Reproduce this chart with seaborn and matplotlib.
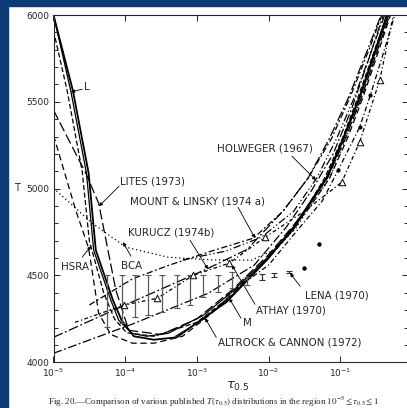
import numpy as np
import matplotlib
matplotlib.use("Agg")
import matplotlib.pyplot as plt
from matplotlib.ticker import MultipleLocator, NullLocator
from matplotlib.patches import Rectangle
import seaborn as sns

# log10(tau_0.5) and T for each model
L_lt = [-5.0, -4.76, -4.54, -4.44, -4.20, -4.09, -3.91, -3.70, -3.40, -2.91, -2.53, -2.01, -1.65, -1.45, -1.17, -0.94, -0.72, -0.50, -0.33]
L_T = [6000, 5565, 5089, 4646, 4357, 4242, 4167, 4150, 4167, 4271, 4398, 4605, 4772, 4893, 5070, 5300, 5530, 5800, 6000]

altrock_lt = [-5.0, -4.73, -4.51, -4.41, -4.17, -4.05, -3.88, -3.60, -3.28, -2.91, -2.59, -2.00, -1.65, -1.47, -1.19, -0.96, -0.73, -0.51, -0.35]
altrock_T = [6000, 5565, 5089, 4646, 4357, 4242, 4150, 4130, 4144, 4254, 4346, 4600, 4780, 4890, 5065, 5290, 5530, 5800, 6000]

dash_lt = [-5.0, -4.81, -4.60, -4.50, -4.30, -4.15, -3.98, -3.60, -3.00, -2.50, -2.00, -1.62, -1.50, -1.22, -0.97, -0.75, -0.52, -0.35]
dash_T = [5910, 5565, 5100, 4700, 4400, 4250, 4170, 4150, 4230, 4390, 4600, 4780, 4870, 5060, 5290, 5530, 5800, 6000]

lites_lt = [-5.0, -4.55, -4.37, -4.13, -3.95, -3.50, -3.00, -2.50, -2.00, -1.65, -1.48, -1.18, -0.93, -0.70, -0.48, -0.31]
lites_T = [5452, 5089, 4916, 4415, 4184, 4160, 4250, 4420, 4620, 4790, 4880, 5060, 5290, 5530, 5800, 6000]

hsra_lt = [-5.0, -4.69, -4.51, -4.37, -4.20, -3.90, -3.60, -3.20, -2.80, -2.40, -2.00, -1.65, -1.45, -1.15, -0.90, -0.68, -0.46, -0.30]
hsra_T = [5308, 4876, 4657, 4282, 4160, 4110, 4110, 4150, 4280, 4440, 4610, 4780, 4880, 5060, 5290, 5530, 5800, 6000]

bca_lt = [-5.0, -4.46, -3.99, -3.40, -2.80, -2.24, -1.90, -1.62, -1.45, -1.15, -0.92, -0.70, -0.48, -0.32]
bca_T = [5003, 4801, 4663, 4605, 4590, 4588, 4650, 4772, 4880, 5060, 5290, 5530, 5800, 6000]

kurucz_lt = [-5.0, -4.0, -2.87, -2.30, -1.80, -1.45, -1.15, -0.88, -0.62, -0.43]
kurucz_T = [4144, 4330, 4536, 4650, 4870, 5060, 5290, 5530, 5800, 6000]

mtl_lt = [-4.50, -3.90, -3.39, -2.80, -2.21, -1.80, -1.45, -1.12, -0.86, -0.60, -0.42]
mtl_T = [4330, 4480, 4559, 4640, 4715, 4870, 5060, 5290, 5530, 5800, 6000]

holweger_lt = [-3.20, -2.60, -2.10, -1.65, -1.33, -1.05, -0.80, -0.56, -0.38]
holweger_T = [4590, 4640, 4720, 4870, 5060, 5290, 5530, 5800, 6000]

athay_lt = [-4.70, -4.02, -3.55, -3.05, -2.55, -2.05, -1.50, -0.98, -0.73, -0.45, -0.26]
athay_T = [4230, 4329, 4369, 4501, 4571, 4720, 4870, 5037, 5268, 5625, 6000]
athay_tri_lt = [-4.02, -3.55, -3.05, -2.55, -2.05, -0.98, -0.73, -0.45]
athay_tri_T = [4329, 4369, 4501, 4571, 4720, 5037, 5268, 5625]

low_lt = [-5.0, -3.90, -2.84, -2.20, -1.75, -1.40, -1.10, -0.85, -0.60, -0.40]
low_T = [4052, 4220, 4398, 4560, 4780, 4990, 5200, 5450, 5750, 6000]

m_lt = [-3.30, -2.90, -2.55, -2.10, -1.63]
m_T = [4150, 4250, 4369, 4560, 4778]

dots_lt = [-2.60, -2.00, -1.60, -1.25, -1.03, -0.73, -0.58, -0.40, -0.24]
dots_T = [4380, 4560, 4760, 4930, 5107, 5354, 5539, 5780, 6000]
dots_pt_lt = [-1.03, -0.73, -0.58]
dots_pt_T = [5107, 5354, 5539]

# error bars (big set) and Lena (1970) points
bar_lt = [-4.258, -4.049, -3.863, -3.678, -3.491, -3.282, -3.096, -2.911, -2.710, -2.515, -2.305]
bar_hi = [4500, 4500, 4500, 4500, 4500, 4500, 4500, 4500, 4500, 4520, 4490]
bar_lo = [4203, 4225, 4261, 4271, 4290, 4311, 4329, 4376, 4405, 4425, 4444]

lena_bar_lt = [-2.09, -1.925, -1.72]
lena_bar_T = [4490, 4501, 4519]
lena_bar_err = [17, 12, 6]
lena_pt_lt = [-1.297, -1.506]
lena_pt_T = [4680, 4542]

xtick_exp = [-5, -4, -3, -2, -1]

sns.set_style("ticks")
plt.rcParams['font.family'] = ['DejaVu Sans']
plt.rcParams['mathtext.fontset'] = 'dejavusans'

fig = plt.figure(figsize=(4.07, 4.08), dpi=100)
ax = fig.add_axes([53.5 / 407, 1 - 362.3 / 408, (408 - 53.5) / 407, (362.3 - 15) / 408])
ax.set_xscale('log')


def curve(lt, T, ls, lw=0.9):
    sns.lineplot(x=10.0 ** np.array(lt), y=T, ax=ax, color='black', lw=lw,
                 linestyle=ls, sort=False, estimator=None)


curve(L_lt, L_T, '-', 0.9)
curve(altrock_lt, altrock_T, '-', 1.3)
curve(dash_lt, dash_T, (0, (4, 2)))
curve(lites_lt, lites_T, (0, (8, 3)))
curve(hsra_lt, hsra_T, (0, (5, 3)))
curve(bca_lt, bca_T, (0, (1, 2.2)))
curve(kurucz_lt, kurucz_T, (0, (8, 2, 1.5, 2)))
curve(mtl_lt, mtl_T, (0, (5, 2, 1.5, 2)))
curve(holweger_lt, holweger_T, (0, (6, 2, 1, 2, 1, 2)))
curve(athay_lt, athay_T, (0, (3, 2, 1, 2)))
curve(low_lt, low_T, (0, (7, 2, 1.5, 2)))
curve(m_lt, m_T, '-', 0.8)
curve(dots_lt, dots_T, (0, (4, 2, 1, 2)))

sns.scatterplot(x=10.0 ** np.array(athay_tri_lt), y=athay_tri_T, ax=ax, marker='^',
                s=22, color='white', edgecolor='black', linewidth=0.7, zorder=4)
sns.scatterplot(x=10.0 ** np.array(dots_pt_lt), y=dots_pt_T, ax=ax, marker='o',
                s=9, color='black', linewidth=0, zorder=4)
sns.scatterplot(x=10.0 ** np.array(lena_pt_lt), y=lena_pt_T, ax=ax, marker='o',
                s=10, color='black', linewidth=0, zorder=4)

bar_mid = (np.array(bar_hi) + np.array(bar_lo)) / 2
bar_half = (np.array(bar_hi) - np.array(bar_lo)) / 2
ax.errorbar(10.0 ** np.array(bar_lt), bar_mid, yerr=bar_half, fmt='none',
            ecolor='0.35', elinewidth=0.9, capsize=2.3, capthick=0.8)
ax.errorbar(10.0 ** np.array(lena_bar_lt), lena_bar_T, yerr=lena_bar_err, fmt='none',
            ecolor='0.2', elinewidth=0.9, capsize=2.0, capthick=0.8)

# labels with arrows: (text pos), (arrow tail), (arrow tip) in log tau / T
labels = [
    ("L", (-4.575, 5585), (-4.60, 5573), (-4.756, 5556)),
    ("LITES (1973)", (-4.07, 5043), (-4.086, 5014), (-4.365, 4899)),
    ("MOUNT & LINSKY (1974 a)", (-3.933, 4928), (-2.427, 4893), (-2.19, 4715)),
    ("HOLWEGER (1967)", (-2.72, 5233), (-1.674, 5187), (-1.34, 5049)),
    ("KURUCZ (1974b)", (-3.96, 4749), (-3.096, 4703), (-2.845, 4536)),
    ("HSRA", (-4.895, 4547), (-4.60, 4605), (-4.477, 4669)),
    ("BCA", (-4.06, 4553), (-3.92, 4611), (-4.03, 4692)),
    ("LENA (1970)", (-1.49, 4386), (-1.56, 4438), (-1.70, 4513)),
    ("ATHAY (1970)", (-2.18, 4300), (-2.19, 4334), (-2.51, 4559)),
    ("M", (-2.36, 4225), (-2.385, 4254), (-2.55, 4369)),
    ("ALTROCK & CANNON (1972)", (-2.705, 4115), (-2.73, 4144), (-2.885, 4254)),
]
for text, pos, tail, tip in labels:
    ax.text(10 ** pos[0], pos[1], text, fontsize=7.4, ha='left', va='center')
    ax.annotate('', xy=(10 ** tip[0], tip[1]), xytext=(10 ** tail[0], tail[1]),
                arrowprops=dict(arrowstyle='-|>', lw=0.6, color='black',
                                mutation_scale=5, shrinkA=0, shrinkB=0))

ax.set_xlim(1e-5, 10 ** (-5 + (408 - 53.5) / 71.7))
ax.set_ylim(4000, 6000)
ax.set_xticks([10.0 ** e for e in xtick_exp])
ax.set_xticklabels([r'$10^{%d}$' % e for e in xtick_exp])
ax.xaxis.set_minor_locator(NullLocator())
ax.yaxis.set_major_locator(MultipleLocator(500))
ax.yaxis.set_minor_locator(MultipleLocator(100))
ax.tick_params(which='both', direction='in', top=True, right=True, width=0.7)
ax.tick_params(which='major', length=4, labelsize=6.5, pad=3)
ax.tick_params(which='minor', length=3)
ax.set_xlabel('')
ax.set_ylabel('')
for s in ax.spines.values():
    s.set_linewidth(0.8)

fig.text(17 / 407, 1 - 188 / 408, 'T', fontsize=7, ha='center', va='center')
fig.text(238 / 407, 1 - 386 / 408, r'$\tau_{0.5}$', fontsize=9.5, ha='center', va='center')
fig.text(213 / 407, 1 - 402 / 408,
         r'Fig. 20.—Comparison of various published $T(\tau_{0.5})$ distributions in the region $10^{-5} \leq \tau_{0.5} \leq 1$',
         fontsize=6.5, ha='center', va='center', family='Liberation Serif', math_fontfamily='stix')

# dark blue frame at the left and top of the scan
fig.patches.append(Rectangle((0, 0), 8 / 407, 1, transform=fig.transFigure, color='#0c3a74', zorder=10))
fig.patches.append(Rectangle((0, 1 - 6 / 408), 1, 6 / 408, transform=fig.transFigure, color='#0c3a74', zorder=10))

fig.savefig('out.png', dpi=100)
